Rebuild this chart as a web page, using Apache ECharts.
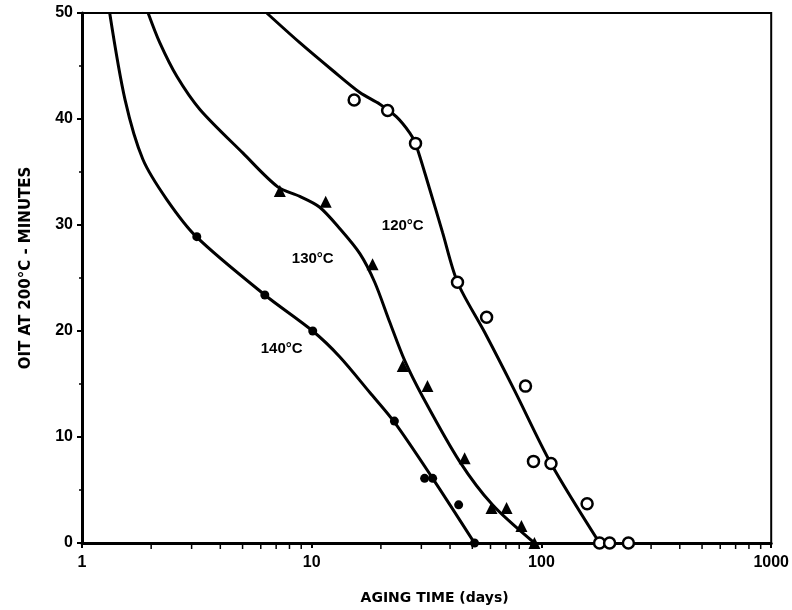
<!DOCTYPE html>
<html>
<head>
<meta charset="utf-8">
<script src="https://cdn.jsdelivr.net/npm/echarts@6/dist/echarts.min.js"></script>
<style>html,body{margin:0;padding:0;background:#fff}#c{width:792px;height:610px}</style>
</head>
<body>
<div id="c"></div>
<script>
// Fitted curves: [days, OIT minutes]
const curve120 = [[6.37,50],[8.87,47.2],[12.3,44.6],[16.2,42.5],[19.8,41.4],[23.4,40.2],[26.7,38.7],[28.3,37.7],[32.6,33.4],[37.1,29.3],[43.1,24.6],[56.5,19.9],[76.3,14.4],[110,7.5],[179,0]];
const curve130 = [[1.94,50],[2.18,47.2],[2.59,44.0],[3.26,40.9],[5.01,36.8],[7.11,33.6],[8.87,32.7],[10.8,31.7],[13.2,29.7],[16.2,27.3],[18.8,24.6],[21.8,20.9],[25.4,17.2],[30.4,13.8],[44.0,7.7],[61.2,3.6],[93.2,0]];
const curve140 = [[1.32,50],[1.54,41.8],[1.84,36.2],[2.34,32.4],[3.16,28.85],[6.25,23.4],[10.1,20.0],[13.2,17.6],[17.9,14.2],[22.9,11.4],[33.6,6.1],[51.1,0]];
// Measured points
const pts120 = [[15.3,41.8],[21.4,40.8],[28.3,37.7],[43.1,24.6],[57.7,21.3],[85.2,14.8],[92.3,7.7],[110,7.5],[158,3.7],[179,0],[198,0],[239,0]];
const pts130 = [[7.26,33.2],[11.5,32.2],[18.4,26.3],[24.9,16.7],[31.9,14.8],[46.3,8.0],[60.6,3.3],[70.5,3.3],[81.8,1.6],[93.2,0]];
const pts140 = [[3.16,28.9],[6.25,23.4],[10.1,20.0],[22.9,11.5],[31.0,6.1],[33.6,6.1],[43.6,3.6],[51.1,0]];
// Curve labels
const labelNames = ['120°C','130°C','140°C'];
const labelPos = [[24.9,29.9],[10.1,26.8],[7.4,18.3]];
// Axis ticks
const yTickValues = [0,10,20,30,40,50];
const xMinorTicks = [2,3,4,5,6,7,8,9,20,30,40,50,60,70,80,90,200,300,400,500,600,700,800,900];

const FONT = "'Liberation Sans', Arial, sans-serif";
const NAMEFONT = "'DejaVu Sans', 'Liberation Sans', sans-serif";
const INK = '#000';

const chart = echarts.init(document.getElementById('c'), null, {renderer:'canvas'});
const lineSeries = (data) => ({
  type:'line', data, smooth:0.3, showSymbol:false, symbol:'none',
  lineStyle:{color:INK, width:3}, silent:true, z:2, clip:true
});
chart.setOption({
  animation:false,
  backgroundColor:'#fff',
  grid:{left:82, right:20, top:13, bottom:65, show:true, borderColor:INK, borderWidth:2, backgroundColor:'transparent'},
  xAxis:{
    type:'log', logBase:10, min:1, max:1000,
    name:'AGING TIME (days)', nameLocation:'middle', nameGap:48,
    nameTextStyle:{fontFamily:NAMEFONT, fontWeight:'bold', fontSize:14, color:INK, padding:[0,0,0,16]},
    axisLine:{show:true, lineStyle:{color:INK, width:3}},
    axisTick:{show:true, length:5, lineStyle:{color:INK, width:2}},
    minorTick:{show:false},
    splitLine:{show:false},
    axisLabel:{fontFamily:FONT, fontWeight:'bold', fontSize:16, color:INK, margin:12,
      formatter:(v)=>String(Math.round(v))}
  },
  yAxis:{
    type:'value', min:0, max:50, interval:10,
    name:'OIT AT 200°C - MINUTES', nameLocation:'middle', nameGap:48,
    nameTextStyle:{fontFamily:NAMEFONT, fontWeight:'bold', fontSize:15, color:INK, padding:[0,0,0,20]},
    axisLine:{show:true, lineStyle:{color:INK, width:3}},
    axisTick:{show:true, length:5, lineStyle:{color:INK, width:2}},
    minorTick:{show:true, splitNumber:2, length:3, lineStyle:{color:INK, width:1.5}},
    splitLine:{show:false},
    axisLabel:{fontFamily:FONT, fontWeight:'bold', fontSize:16, color:INK, margin:9,
      formatter:(v)=> yTickValues.includes(v) ? String(v) : ''}
  },
  series:[
    lineSeries(curve120),
    lineSeries(curve130),
    lineSeries(curve140),
    {type:'scatter', data:pts120, symbol:'circle', symbolSize:11, clip:false, z:4,
      itemStyle:{color:'#fff', borderColor:INK, borderWidth:2.5, opacity:1}},
    {type:'scatter', data:pts130, symbol:'triangle', symbolSize:12, clip:false, z:4,
      itemStyle:{color:INK, opacity:1}},
    {type:'scatter', data:pts140, symbol:'circle', symbolSize:9, clip:false, z:4,
      itemStyle:{color:INK, opacity:1}},
    {type:'scatter', data:xMinorTicks.map(v=>[v,0]), symbol:'rect', symbolSize:[1.5,4],
      symbolOffset:[0,4], clip:false, silent:true, z:3, itemStyle:{color:INK, opacity:1}},
    {type:'scatter', data:labelPos.map((p,i)=>({name:labelNames[i], value:p})),
      symbolSize:0, silent:true, z:5, itemStyle:{opacity:1},
      label:{show:true, position:'inside', formatter:(p)=>p.name, opacity:1,
        fontFamily:FONT, fontWeight:'bold', fontSize:15, color:INK, textBorderWidth:0}}
  ]
});
</script>
</body>
</html>
